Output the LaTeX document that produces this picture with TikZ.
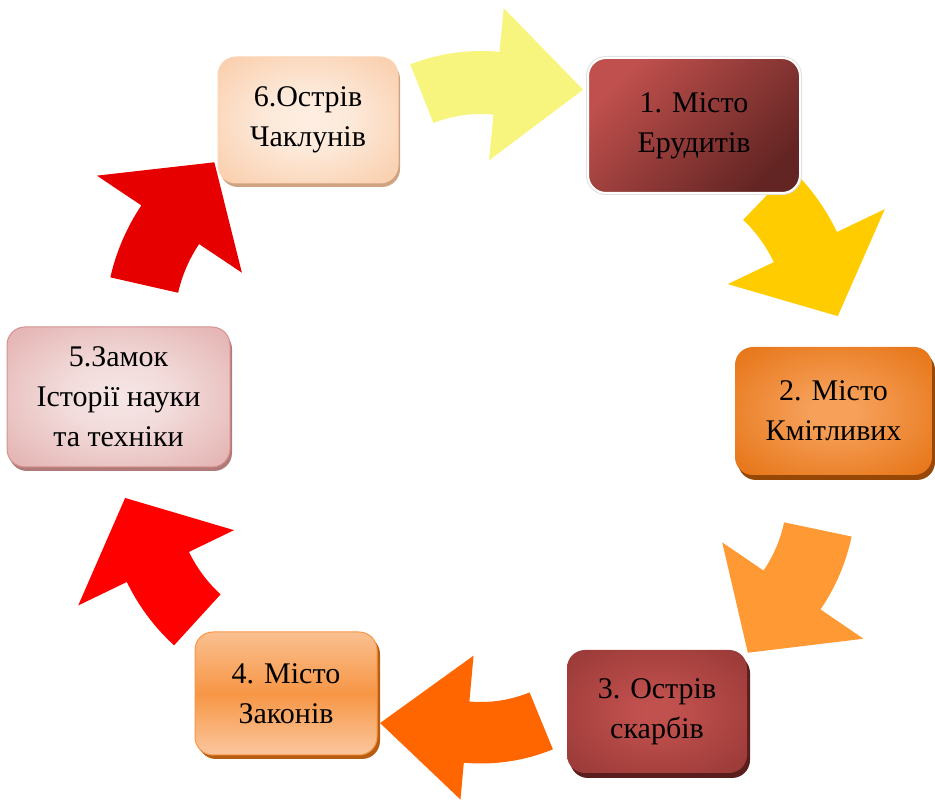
\documentclass[tikz,border=0pt]{standalone}
\usepackage{fontspec}
\setmainfont{Liberation Serif}
\usetikzlibrary{shadows}
\definecolor{arrA}{HTML}{F8F57F}
\definecolor{arrB}{HTML}{FFCC00}
\definecolor{arrC}{HTML}{FF9933}
\definecolor{arrD}{HTML}{FF6600}
\definecolor{arrE}{HTML}{FF0000}
\definecolor{arrF}{HTML}{E60000}
\definecolor{bOneTop}{HTML}{C0504D}
\definecolor{bOneBot}{HTML}{632523}
\definecolor{bTwoShadow}{HTML}{984806}
\definecolor{bThreeShadow}{HTML}{5A1E1D}
\definecolor{bFourTop}{HTML}{FAC090}
\definecolor{bFourMid}{HTML}{F79646}
\definecolor{bFourBot}{HTML}{FBC79E}
\definecolor{bFourShadow}{HTML}{B85E12}
\definecolor{bFiveBorder}{HTML}{D49290}
\definecolor{bFiveShadow}{HTML}{B07A78}
\definecolor{bSixBorder}{HTML}{FBD5B5}
\definecolor{bSixShadow}{HTML}{CFA382}
\pgfdeclareradialshading{shTwo}{\pgfpoint{0bp}{0bp}}{color(0bp)=(rgb,255:red,246;green,160;blue,90); color(6bp)=(rgb,255:red,246;green,160;blue,90); color(40bp)=(rgb,255:red,227;green,108;blue,9); color(50bp)=(rgb,255:red,227;green,108;blue,9)}
\pgfdeclareradialshading{shThree}{\pgfpoint{0bp}{0bp}}{color(0bp)=(rgb,255:red,194;green,82;blue,78); color(6bp)=(rgb,255:red,192;green,80;blue,77); color(40bp)=(rgb,255:red,145;green,53;blue,51); color(50bp)=(rgb,255:red,145;green,53;blue,51)}
\pgfdeclareradialshading{shFive}{\pgfpoint{0bp}{0bp}}{color(0bp)=(rgb,255:red,246;green,230;blue,230); color(12bp)=(rgb,255:red,242;green,220;blue,219); color(50bp)=(rgb,255:red,217;green,150;blue,148)}
\pgfdeclareradialshading{shSix}{\pgfpoint{0bp}{0bp}}{color(0bp)=(rgb,255:red,254;green,238;blue,226); color(12bp)=(rgb,255:red,253;green,233;blue,217); color(50bp)=(rgb,255:red,247;green,187;blue,140)}
\newcommand\cyclearrow[9]{\fill[#1,shift={(#2)}] (#7:#4) arc[start angle=#7,end angle=#8,radius=#4] -- (#8:#6) -- (#9) -- (#8:#5) -- (#8:#3) arc[start angle=#8,end angle=#7,radius=#3] -- cycle;}
\tikzset{
  cyclebox/.style={rounded corners=18pt, align=center, text=black,
    font=\fontsize{30}{40}\selectfont, inner sep=4pt},
}
\begin{document}
\begin{tikzpicture}[x=1pt,y=1pt]
\useasboundingbox (0,0) rectangle (935,803);
% arrows
\cyclearrow{arrA}{481,559}{130}{193}{84}{237}{111.5}{84.5}{56.5:185}
\cyclearrow{arrB}{642,478}{146}{216}{95}{269}{46.1}{25.5}{2.6:196}
\cyclearrow{arrC}{652,308.5}{135}{204}{85}{256}{-11.9}{-34.3}{-58.8:185}
\cyclearrow{arrD}{481,229}{128}{189.5}{82}{226.5}{-67.7}{-95.2}{-124.1:180}
\cyclearrow{arrE}{315,312}{140}{209}{90}{263}{-132.4}{-154.2}{-177.9:190}
\cyclearrow{arrF}{320,478}{145.5}{215}{94}{268.5}{167.2}{146.2}{123:194}
% boxes
\node (b1) [cyclebox, minimum width=212pt, minimum height=135pt,
  preaction={draw=black!12, line width=4pt},
  top color=bOneTop, bottom color=bOneBot, shading angle=45,
  draw=white, line width=2pt] at (694,677.5) {1. Місто\\Ерудитів};
\node (b2) [cyclebox, minimum width=197pt, minimum height=128pt,
  drop shadow={shadow xshift=3pt, shadow yshift=-5pt, fill=bTwoShadow, opacity=1},
  shading=shTwo] at (833.5,392) {2. Місто\\Кмітливих};
\node (b3) [cyclebox, minimum width=180pt, minimum height=123pt,
  drop shadow={shadow xshift=3pt, shadow yshift=-5pt, fill=bThreeShadow, opacity=1},
  shading=shThree] at (657,91.5) {3. Острів\\скарбів};
\node (b4) [cyclebox, minimum width=182pt, minimum height=123pt,
  drop shadow={shadow xshift=3pt, shadow yshift=-4pt, fill=bFourShadow, opacity=1},
  top color=bFourTop, bottom color=bFourBot, middle color=bFourMid,
  draw=bFourMid, line width=1pt] at (286,109.5) {4. Місто\\Законів};
\node (b5) [cyclebox, minimum width=223pt, minimum height=140pt,
  drop shadow={shadow xshift=2pt, shadow yshift=-4pt, fill=bFiveShadow, opacity=1},
  shading=shFive, draw=bFiveBorder, line width=1pt] at (118.5,406) {5.Замок\\Історії науки\\та техніки};
\node (b6) [cyclebox, minimum width=180pt, minimum height=126pt,
  drop shadow={shadow xshift=2pt, shadow yshift=-4pt, fill=bSixShadow, opacity=1},
  shading=shSix, draw=bSixBorder, line width=1pt] at (308,683) {6.Острів\\Чаклунів};
\end{tikzpicture}
\end{document}
